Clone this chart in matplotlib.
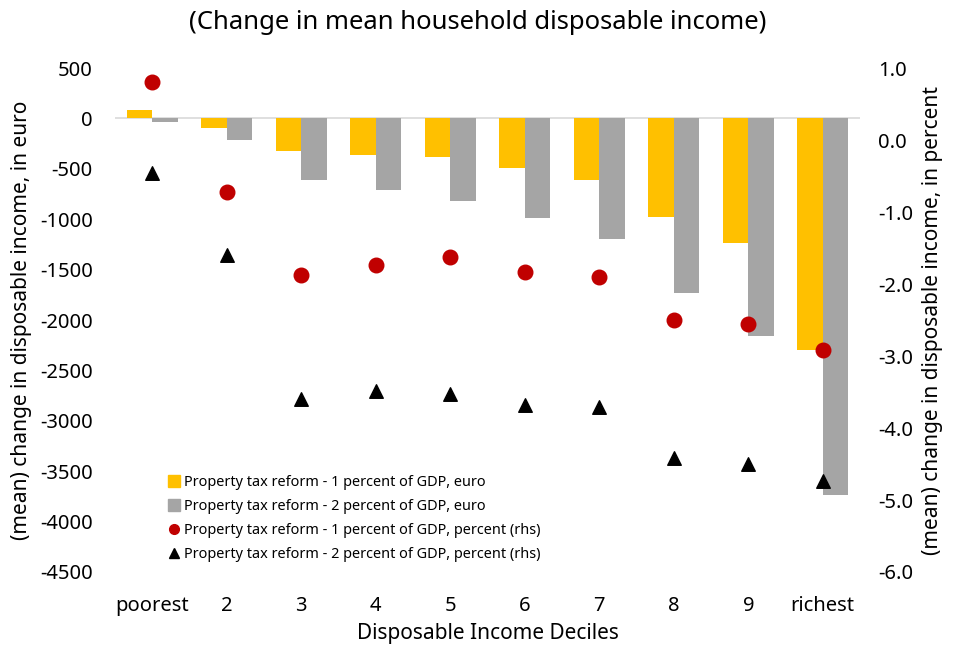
import numpy as np
import matplotlib
matplotlib.use('Agg')
import matplotlib.pyplot as plt
from matplotlib.lines import Line2D

plt.rcParams['font.family'] = ['Noto Sans', 'DejaVu Sans']
plt.rcParams['axes.unicode_minus'] = False

deciles = ['poorest', '2', '3', '4', '5', '6', '7', '8', '9', 'richest']

# mean change in disposable income, euro (left axis)
euro_1pct = [80, -100, -320, -360, -380, -490, -615, -975, -1235, -2300]
euro_2pct = [-35, -215, -615, -710, -820, -985, -1195, -1735, -2160, -3735]

# mean change in disposable income, percent (right axis)
pct_1pct = [0.81, -0.72, -1.88, -1.73, -1.63, -1.83, -1.90, -2.50, -2.56, -2.91]
pct_2pct = [-0.46, -1.60, -3.60, -3.49, -3.53, -3.68, -3.71, -4.41, -4.50, -4.74]

label_e1 = 'Property tax reform - 1 percent of GDP, euro'
label_e2 = 'Property tax reform - 2 percent of GDP, euro'
label_p1 = 'Property tax reform - 1 percent of GDP, percent (rhs)'
label_p2 = 'Property tax reform - 2 percent of GDP, percent (rhs)'

YELLOW = '#FFC000'
GREY = '#A5A5A5'
RED = '#C00000'

fig = plt.figure(figsize=(9.56, 6.52), dpi=100)
ax = fig.add_axes([0.1203, 0.1227, 0.7793, 0.773])
ax2 = ax.twinx()

x = np.arange(len(deciles))
w = 0.34
ax.bar(x - w / 2, euro_1pct, width=w, color=YELLOW, zorder=2)
ax.bar(x + w / 2, euro_2pct, width=w, color=GREY, zorder=2)
ax.axhline(0, color='#D9D9D9', linewidth=1.2, zorder=1)

ax2.scatter(x, pct_1pct, s=110, color=RED, marker='o', zorder=3)
ax2.scatter(x, pct_2pct, s=95, color='black', marker='^', zorder=3)

ax.set_xlim(-0.5, len(deciles) - 0.5)
ax.set_ylim(-4500, 500)
ax.set_yticks(np.arange(-4500, 501, 500))
ax2.set_ylim(-6.0, 1.0)
ax2.set_yticks(np.arange(-6, 1.01, 1.0))
ax2.set_yticklabels([f'{v:.1f}' for v in np.arange(-6, 1.01, 1.0)])

ax.set_xticks(x)
ax.set_xticklabels(deciles)

for a in (ax, ax2):
    for s in a.spines.values():
        s.set_visible(False)
    a.tick_params(length=0, labelsize=14.5, colors='black')
ax.tick_params(axis='y', pad=16)
ax.tick_params(axis='x', pad=17)
ax2.tick_params(axis='y', pad=13)

ax.set_xlabel('Disposable Income Deciles', fontsize=15, labelpad=5)
ax.set_ylabel('(mean) change in disposable income, in euro', fontsize=15, labelpad=6)
ax2.set_ylabel('(mean) change in disposable income, in percent', fontsize=15, labelpad=6)

fig.suptitle('(Change in mean household disposable income)', fontsize=18.5, y=0.985)

handles = [
    Line2D([], [], linestyle='none', marker='s', markersize=8, color=YELLOW),
    Line2D([], [], linestyle='none', marker='s', markersize=8, color=GREY),
    Line2D([], [], linestyle='none', marker='o', markersize=7, color=RED),
    Line2D([], [], linestyle='none', marker='^', markersize=7, color='black'),
]
fig.legend(handles, [label_e1, label_e2, label_p1, label_p2],
           loc='upper left', bbox_to_anchor=(0.168, 0.282),
           frameon=False, fontsize=10.4, handlelength=0.8, handletextpad=0.3,
           labelspacing=0.62, borderpad=0)

plt.savefig('out.png', dpi=100)
